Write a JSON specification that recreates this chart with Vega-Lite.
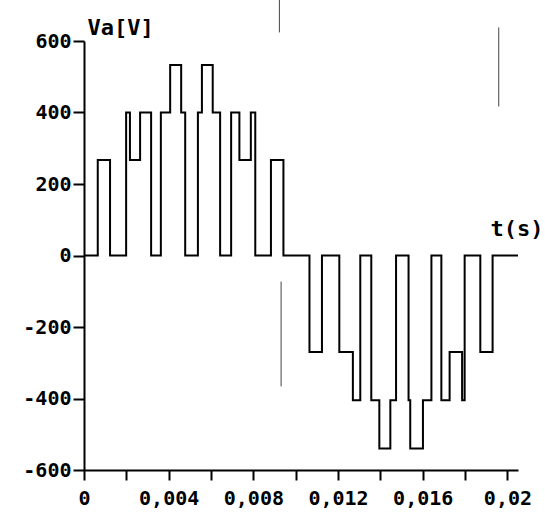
{
  "$schema": "https://vega.github.io/schema/vega-lite/v6.json",
  "width": 434,
  "height": 429,
  "autosize": "none",
  "padding": {"left": 84, "top": 41, "right": 27, "bottom": 44},
  "background": "white",
  "config": {
    "view": {"stroke": null},
    "axis": {
      "grid": false,
      "domainColor": "black",
      "domainWidth": 2,
      "tickColor": "black",
      "tickWidth": 2,
      "labelColor": "black",
      "labelFont": "DejaVu Sans Mono",
      "labelFontSize": 20,
      "labelFontWeight": "bold",
      "titleColor": "black",
      "titleFont": "DejaVu Sans Mono",
      "titleFontSize": 22,
      "titleFontWeight": "bold"
    }
  },
  "datasets": {
    "wave": [
      {"t": 0, "v": 0},
      {"t": 0.00065, "v": 267},
      {"t": 0.00123, "v": 0},
      {"t": 0.00199, "v": 400},
      {"t": 0.00217, "v": 267},
      {"t": 0.00265, "v": 400},
      {"t": 0.00317, "v": 0},
      {"t": 0.00363, "v": 400},
      {"t": 0.00407, "v": 533},
      {"t": 0.00459, "v": 400},
      {"t": 0.00478, "v": 0},
      {"t": 0.00538, "v": 400},
      {"t": 0.00557, "v": 533},
      {"t": 0.00608, "v": 400},
      {"t": 0.00643, "v": 0},
      {"t": 0.00695, "v": 400},
      {"t": 0.00734, "v": 267},
      {"t": 0.00788, "v": 400},
      {"t": 0.00809, "v": 0},
      {"t": 0.00883, "v": 267},
      {"t": 0.00942, "v": 0},
      {"t": 0.01065, "v": -270},
      {"t": 0.01124, "v": 0},
      {"t": 0.01206, "v": -270},
      {"t": 0.0127, "v": -405},
      {"t": 0.01305, "v": 0},
      {"t": 0.01357, "v": -405},
      {"t": 0.01395, "v": -540},
      {"t": 0.01447, "v": -405},
      {"t": 0.01474, "v": 0},
      {"t": 0.01533, "v": -405},
      {"t": 0.01541, "v": -540},
      {"t": 0.01601, "v": -405},
      {"t": 0.01641, "v": 0},
      {"t": 0.01688, "v": -405},
      {"t": 0.01727, "v": -270},
      {"t": 0.01786, "v": -405},
      {"t": 0.01798, "v": 0},
      {"t": 0.01872, "v": -270},
      {"t": 0.0193, "v": 0},
      {"t": 0.0205, "v": 0}
    ],
    "marks": [
      {"t": 0.00923, "v1": 716, "v2": 624},
      {"t": 0.01959, "v1": 638, "v2": 417},
      {"t": 0.00931, "v1": -73, "v2": -366}
    ]
  },
  "layer": [
    {
      "mark": {"type": "rule", "color": "black", "strokeWidth": 2},
      "encoding": {"y": {"datum": 0, "type": "quantitative"}}
    },
    {
      "data": {"name": "wave"},
      "mark": {"type": "line", "interpolate": "step-after", "color": "black", "strokeWidth": 2},
      "encoding": {
        "x": {
          "field": "t",
          "type": "quantitative",
          "scale": {"domain": [0, 0.0205], "nice": false, "zero": false},
          "axis": {
            "values": [0, 0.002, 0.004, 0.006, 0.008, 0.01, 0.012, 0.014, 0.016, 0.018, 0.02],
            "labelExpr": "round(datum.value*1000)%4==0 ? replace(format(datum.value,'.3~f'),'.',',') : ''",
            "tickSize": 10,
            "labelPadding": 8,
            "labelFlush": false,
            "labelOverlap": false,
            "title": "t(s)",
            "titleX": 406,
            "titleY": -235,
            "titleAlign": "left",
            "titleBaseline": "alphabetic"
          }
        },
        "y": {
          "field": "v",
          "type": "quantitative",
          "scale": {"domain": [-600, 600], "nice": false},
          "axis": {
            "values": [-600, -400, -200, 0, 200, 400, 600],
            "labelExpr": "'' + datum.value",
            "tickSize": 11,
            "labelPadding": 2,
            "labelFlush": false,
            "labelOverlap": false,
            "title": "Va[V]",
            "titleAngle": 0,
            "titleX": 3,
            "titleY": -7,
            "titleAlign": "left",
            "titleBaseline": "alphabetic"
          }
        }
      }
    },
    {
      "data": {"name": "marks"},
      "mark": {"type": "rule", "color": "#444", "strokeWidth": 1, "clip": false},
      "encoding": {
        "x": {"field": "t", "type": "quantitative"},
        "y": {"field": "v1", "type": "quantitative"},
        "y2": {"field": "v2"}
      }
    }
  ]
}
